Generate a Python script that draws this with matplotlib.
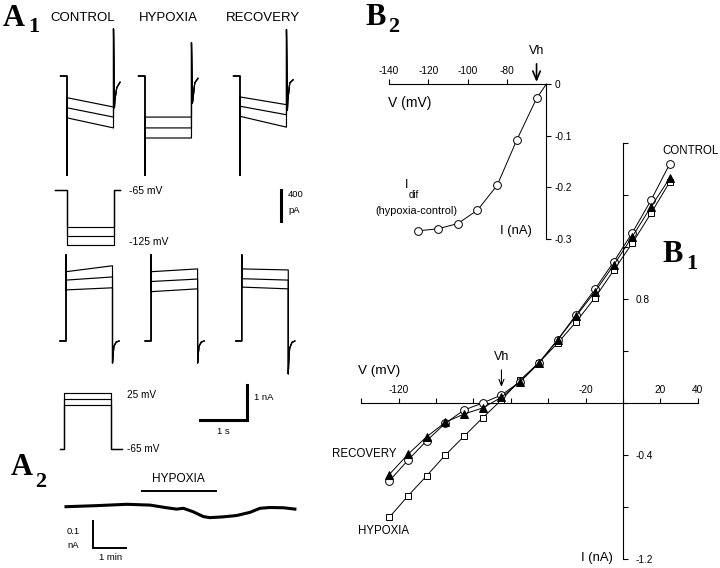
import numpy as np
import matplotlib.pyplot as plt
from matplotlib.ticker import FixedLocator, FixedFormatter

plt.rcParams['font.family'] = ['Liberation Sans', 'DejaVu Sans']
plt.rcParams['axes.unicode_minus'] = False

# ---------------- data ----------------
conditions = ["CONTROL", "HYPOXIA", "RECOVERY"]

# A1 upper row: currents (nA, relative to holding) for steps to -105/-115/-125 mV
hyp_start = [[-0.28, -0.41, -0.54], [-0.53, -0.67, -0.80], [-0.27, -0.39, -0.52]]
hyp_end = [[-0.40, -0.53, -0.67], [-0.53, -0.67, -0.80], [-0.37, -0.50, -0.66]]
hyp_on_peak = [-1.28, -1.28, -1.28]
hyp_off_peak = [0.61, 0.43, 0.60]
hyp_tail_t = [1.02, 1.03, 1.07, 1.14]
hyp_tail = [[-0.41, -0.31, -0.15, -0.08],
            [-0.35, -0.31, -0.09, -0.03],
            [-0.44, -0.31, -0.09, -0.05]]

# A1 lower row: currents (nA) for steps to +5/+15/+25 mV
dep_start = [[1.98, 1.74, 1.46], [1.98, 1.70, 1.41], [2.06, 1.78, 1.54]]
dep_end = [[2.15, 1.83, 1.52], [2.06, 1.77, 1.49], [2.03, 1.74, 1.49]]
dep_on_peak = [2.46, 2.46, 2.46]
dep_off_peak = [-0.63, -0.63, -0.94]
dep_tail_t = [1.01, 1.03, 1.08, 1.14]
dep_tail = [[-0.45, -0.15, -0.03, 0.0],
            [-0.45, -0.15, -0.03, 0.0],
            [-0.60, -0.20, -0.04, 0.0]]

# voltage protocols (mV)
v_hold = -65
vp1_levels = [-105, -115, -125]
vp2_levels = [5, 15, 25]

# A2: holding current during hypoxia (min, nA)
a2_t = [0, 0.94, 1.86, 2.57, 3.08, 3.38, 3.59, 3.89, 4.2, 4.4, 4.81, 5.22, 5.63, 5.93, 6.24, 6.65, 7.0]
a2_i = [0.0, 0.004, 0.009, 0.006, -0.004, -0.009, -0.006, -0.019, -0.037, -0.041,
        -0.038, -0.033, -0.021, -0.006, -0.003, -0.004, -0.009]
hypoxia_period = [2.32, 4.58]

# B1: I-V curves
v_iv = [-125, -115, -105, -95, -85, -75, -65, -55, -45, -35, -25, -15, -5, 5, 15, 25]
control_iv = [-0.60, -0.44, -0.29, -0.156, -0.054, 0.0, 0.062, 0.164, 0.305, 0.485,
              0.68, 0.875, 1.085, 1.31, 1.56, 1.84]
hypoxia_iv = [-0.88, -0.715, -0.56, -0.40, -0.256, -0.113, 0.023, 0.177, 0.31, 0.46,
              0.625, 0.81, 1.02, 1.23, 1.46, 1.70]
recovery_iv = [-0.55, -0.395, -0.26, -0.148, -0.085, -0.038, 0.044, 0.164, 0.31, 0.485,
               0.67, 0.856, 1.06, 1.28, 1.51, 1.73]

# B2: difference current hypoxia - control
v_dif = [-125, -115, -105, -95, -85, -75, -65, -60]
i_dif = [-0.284, -0.280, -0.270, -0.244, -0.196, -0.108, -0.028, 0.0]

# ---------------- figure ----------------
W, H = 720, 568
fig = plt.figure(figsize=(W / 100, H / 100), dpi=100)


def px_axes(left, top, right, bottom, x0, sx, y0, sy):
    # axes on a pixel box; data 0 at pixel (x0, y0), sx / sy pixels per data unit
    ax = fig.add_axes([left / W, 1 - bottom / H, (right - left) / W, (bottom - top) / H])
    ax.set_xlim((left - x0) / sx, (right - x0) / sx)
    ax.set_ylim((y0 - bottom) / sy, (y0 - top) / sy)
    ax.patch.set_visible(False)
    return ax


def ptext(x, y, s, **kw):
    kw.setdefault('ha', 'left')
    kw.setdefault('va', 'center')
    fig.text(x / W, 1 - y / H, s, **kw)


def sweep(pre, start, end, on_peak, off_peak, tail_t, tail):
    t = [-pre, 0, 0, 0, 1.0, 1.0] + list(tail_t)
    i = [0, 0, on_peak, start, end, off_peak] + list(tail)
    return t, i


def protocol(pre, post, level):
    return [-pre, 0, 0, 1.0, 1.0, 1.0 + post], [v_hold, v_hold, level, level, v_hold, v_hold]


lw_tr = 0.85
sps = 46.5  # px per second in A1

# A1 upper traces
ax_top = px_axes(40, 20, 330, 230, 67, sps, 76, 77.5)
ax_top.axis('off')
top_offsets = [0, 1.677, 3.72]
for k in range(3):
    for j in range(3):
        t, i = sweep(0.14, hyp_start[k][j], hyp_end[k][j], hyp_on_peak[k],
                     hyp_off_peak[k], hyp_tail_t, hyp_tail[k])
        ax_top.plot(np.array(t) + top_offsets[k], i, color='black', lw=lw_tr)
# 400 pA bar
ax_top.plot([4.60, 4.60], [-1.471, -1.471 - 0.4], color='black', lw=2.2, clip_on=False)

# voltage protocol 1
ax_vp1 = px_axes(40, 180, 330, 260, 67, sps, 130.4, 0.917)
ax_vp1.axis('off')
for lvl in vp1_levels:
    t, v = protocol(0.26, 0.15, lvl)
    ax_vp1.plot(t, v, color='black', lw=lw_tr)

# A1 lower traces
ax_bot = px_axes(40, 240, 330, 440, 66, sps, 341, 35)
ax_bot.axis('off')
bot_offsets = [0, 1.83, 3.78]
for k in range(3):
    for j in range(3):
        t, i = sweep(0.13, dep_start[k][j], dep_end[k][j], dep_on_peak[k],
                     dep_off_peak[k], dep_tail_t, dep_tail[k])
        ax_bot.plot(np.array(t) + bot_offsets[k], i, color='black', lw=lw_tr)
# 1 nA / 1 s bar
ax_bot.plot([3.886 - 1.0, 3.886, 3.886], [-2.257, -2.257, -2.257 + 1.0],
            color='black', lw=2.2, clip_on=False, solid_joinstyle='miter')

# voltage protocol 2
ax_vp2 = px_axes(40, 380, 330, 460, 64, sps, 408.3, 0.626)
ax_vp2.axis('off')
for lvl in vp2_levels:
    t, v = protocol(0.09, 0.24, lvl)
    ax_vp2.plot(t, v, color='black', lw=lw_tr)

# A1 texts
ptext(83, 18, "CONTROL", ha='center', fontsize=9.5)
ptext(168.5, 18, "HYPOXIA", ha='center', fontsize=9.5)
ptext(263, 18, "RECOVERY", ha='center', fontsize=9.5)
ptext(129, 191, "-65 mV", fontsize=7.5)
ptext(129, 242, "-125 mV", fontsize=7.5)
ptext(288, 195, "400", fontsize=6.8)
ptext(288, 210, "pA", fontsize=6.8)
ptext(127, 395, "25 mV", fontsize=7.2)
ptext(127, 449, "-65 mV", fontsize=7.2)
ptext(254, 398, "1 nA", fontsize=6.8)
ptext(223, 431, "1 s", ha='center', fontsize=6.8)

# A2
ax_a2 = px_axes(50, 465, 330, 566, 66, 32.7, 506.7, 267)
ax_a2.axis('off')
ax_a2.plot(a2_t, a2_i, color='black', lw=2.2, solid_joinstyle='round')
ax_a2.plot(hypoxia_period, [0.059, 0.059], color='black', lw=1.4)
ax_a2.plot([0.835, 0.835, 1.835], [-0.0536, -0.1536, -0.1536], color='black', lw=1.4,
           solid_joinstyle='miter')
ptext(178, 479, "HYPOXIA", ha='center', fontsize=8.6)
ptext(73, 531, "0.1", ha='center', fontsize=6.8)
ptext(73, 545, "nA", ha='center', fontsize=6.8)
ptext(111, 557, "1 min", ha='center', fontsize=6.8)

# panel letters
serif = dict(family='Liberation Serif', weight='bold', va='baseline')
ptext(3, 26, "A", fontsize=22, **serif)
ptext(28, 32, "1", fontsize=16, **serif)
ptext(11, 475, "A", fontsize=22, **serif)
ptext(35, 487, "2", fontsize=16, **serif)
ptext(365, 25, "B", fontsize=22, **serif)
ptext(388, 32, "2", fontsize=16, **serif)
ptext(662, 262, "B", fontsize=22, **serif)
ptext(686, 269, "1", fontsize=16, **serif)

# B1 I-V plot
ax1 = px_axes(355, 135, 720, 568, 623, 1.87, 403, 130)
for s in ['left', 'bottom']:
    ax1.spines[s].set_visible(False)
ax1.spines['top'].set_position(('data', 0))
ax1.spines['right'].set_position(('data', 0))
ax1.spines['top'].set_bounds(-140, 40)
ax1.spines['right'].set_bounds(-1.2, 2.0)
for s in ['top', 'right']:
    ax1.spines[s].set_linewidth(0.8)
ax1.xaxis.set_ticks_position('top')
ax1.yaxis.set_ticks_position('right')
xt = [-140, -120, -100, -80, -60, -40, -20, 0, 20, 40]
xl = ['', '-120', '', '', '', '', '-20', '', '20', '40']
ax1.xaxis.set_major_locator(FixedLocator(xt))
ax1.xaxis.set_major_formatter(FixedFormatter(xl))
yt = [-1.2, -0.8, -0.4, 0, 0.4, 0.8, 1.2, 1.6, 2.0]
yl = ['-1.2', '', '-0.4', '', '', '0.8', '', '', '']
ax1.yaxis.set_major_locator(FixedLocator(yt))
ax1.yaxis.set_major_formatter(FixedFormatter(yl))
ax1.tick_params(axis='x', direction='out', length=3.5, width=0.8, pad=2.5, labelsize=7.3)
ax1.tick_params(axis='y', direction='out', length=3.5, width=0.8, pad=5.5, labelsize=7.3)

ax1.plot(v_iv, hypoxia_iv, color='black', lw=0.7, marker='s', ms=4.6,
         mfc='white', mec='black', mew=0.7, zorder=3)
ax1.plot(v_iv, control_iv, color='black', lw=0.7, marker='o', ms=5.6,
         mfc='white', mec='black', mew=0.7, zorder=4)
ax1.plot(v_iv, recovery_iv, color='black', lw=0.7, marker='^', ms=5.6,
         mfc='black', mec='black', mew=0.7, zorder=5)

ax1.annotate("Vh", xy=(-65, 0.123), xytext=(-65, 0.354), ha='center', va='center',
             fontsize=9, arrowprops=dict(arrowstyle='->,head_length=0.5,head_width=0.2',
                                         lw=0.8, shrinkA=3, shrinkB=0))
ptext(358, 371, "V (mV)", fontsize=9.7)
ptext(581, 558, "I (nA)", fontsize=9.4)
ptext(662, 151, "CONTROL", fontsize=8.3)
ptext(396, 454, "RECOVERY", ha='right', fontsize=8.3)
ptext(358, 531, "HYPOXIA", fontsize=8.3)

# B2 difference current
ax2 = px_axes(370, 40, 600, 245, 664.6, 1.97, 84, 517)
for s in ['left', 'bottom']:
    ax2.spines[s].set_visible(False)
ax2.spines['top'].set_position(('data', 0))
ax2.spines['right'].set_position(('data', -60))
ax2.spines['top'].set_bounds(-140, -60)
ax2.spines['right'].set_bounds(-0.3, 0)
for s in ['top', 'right']:
    ax2.spines[s].set_linewidth(0.8)
ax2.xaxis.set_ticks_position('top')
ax2.yaxis.set_ticks_position('right')
ax2.xaxis.set_major_locator(FixedLocator([-140, -120, -100, -80]))
ax2.xaxis.set_major_formatter(FixedFormatter(['-140', '-120', '-100', '-80']))
ax2.yaxis.set_major_locator(FixedLocator([-0.3, -0.2, -0.1, 0]))
ax2.yaxis.set_major_formatter(FixedFormatter(['-0.3', '-0.2', '-0.1', '0']))
ax2.tick_params(axis='x', direction='out', length=3.5, width=0.8, pad=2.5, labelsize=7.3)
ax2.tick_params(axis='y', direction='out', length=3.5, width=0.8, pad=2.5, labelsize=7.3)
ax2.plot(v_dif, i_dif, color='black', lw=0.7, marker='o', ms=5.6, mfc='white',
         mec='black', mew=0.7, markevery=list(range(len(v_dif) - 1)), clip_on=False)
ax2.annotate("Vh", xy=(-65, 0.004), xytext=(-65, 0.064), ha='center', va='center',
             fontsize=9, arrowprops=dict(arrowstyle='->,head_length=0.7,head_width=0.3',
                                         lw=1.2, shrinkA=3, shrinkB=0))
ptext(388, 103, "V (mV)", fontsize=10)
ptext(500, 231, "I (nA)", fontsize=9.4)
ptext(405, 185, "I", fontsize=9)
ptext(409, 195, "dif", fontsize=7)
ptext(416, 211, "(hypoxia-control)", ha='center', fontsize=7.8)

fig.savefig('out.png', dpi=100)
